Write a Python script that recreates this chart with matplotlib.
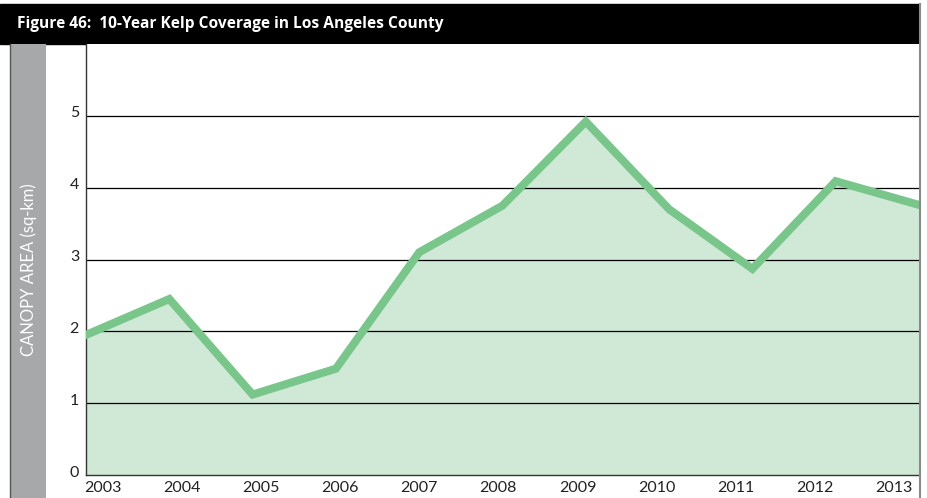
import matplotlib
matplotlib.use("Agg")
import matplotlib.pyplot as plt
import matplotlib.transforms as mtransforms
from matplotlib.patches import Rectangle
import numpy as np

plt.rcParams['font.family'] = ['Lato', 'DejaVu Sans']

years = [2003, 2004, 2005, 2006, 2007, 2008, 2009, 2010, 2011, 2012, 2013]
canopy = [1.95, 2.45, 1.12, 1.48, 3.10, 3.75, 4.92, 3.70, 2.87, 4.09, 3.76]
year_labels = [str(y) for y in years]
y_ticks = [0, 1, 2, 3, 4, 5]

W, H = 927, 498
fig = plt.figure(figsize=(W / 100, H / 100), dpi=100)

# header bar and side band
fig.add_artist(Rectangle((0, 1 - 44 / H), 919 / W, 40 / H, transform=fig.transFigure,
                         color='black', zorder=0))
fig.add_artist(Rectangle((10 / W, 0), 36 / W, 1 - 44 / H, transform=fig.transFigure,
                         facecolor='#a7a8aa', edgecolor='none', zorder=0))
fig.add_artist(plt.Line2D([9.5 / W, 9.5 / W], [0, 1 - 44 / H], transform=fig.transFigure,
                          color='#555555', lw=1))
fig.add_artist(plt.Line2D([919.5 / W, 919.5 / W], [0, 1 - 4 / H], transform=fig.transFigure,
                          color='#8a8a8a', lw=1.5))
fig.text(17 / W, 1 - 24 / H, 'Figure 46:  10-Year Kelp Coverage in Los Angeles County',
         color='white', fontsize=11.2, fontweight='bold', va='center', ha='left',
         family=['Open Sans', 'DejaVu Sans'])
fig.text(29 / W, 1 - 270 / H, 'CANOPY AREA (sq-km)', color='white', fontsize=12,
         rotation=90, ha='center', va='center')

ax = fig.add_axes([86 / W, (H - 475) / H, (919 - 86) / W, (475 - 44) / H])
ax.fill_between(years, canopy, 0, color='#cfe9d6', lw=0, zorder=1)
for v in y_ticks[1:]:
    ax.axhline(v, color='black', lw=0.9, zorder=2)
ax.plot(years, canopy, color='#79c68a', lw=5.8, zorder=3, solid_joinstyle='miter')

ax.set_xlim(2003, 2013)
ax.set_ylim(0, 6)
ax.set_yticks(y_ticks)
ax.set_yticklabels([str(v) for v in y_ticks])
ax.set_xticks(np.linspace(2003.2, 2012.7, len(years)))
ax.set_xticklabels(year_labels)
ax.tick_params(axis='both', length=0, labelsize=11.5, colors='#222222')
ax.tick_params(axis='y', pad=5)
ax.tick_params(axis='x', pad=4)
shift = mtransforms.ScaledTranslation(0, 4 / 100, fig.dpi_scale_trans)
for lab in ax.get_yticklabels():
    lab.set_transform(lab.get_transform() + shift)

for s in ['top', 'right']:
    ax.spines[s].set_visible(False)
ax.spines['left'].set_color('#333333')
ax.spines['bottom'].set_color('#333333')
ax.spines['left'].set_linewidth(1)
ax.spines['bottom'].set_linewidth(1)

fig.savefig('out.png', dpi=100)
